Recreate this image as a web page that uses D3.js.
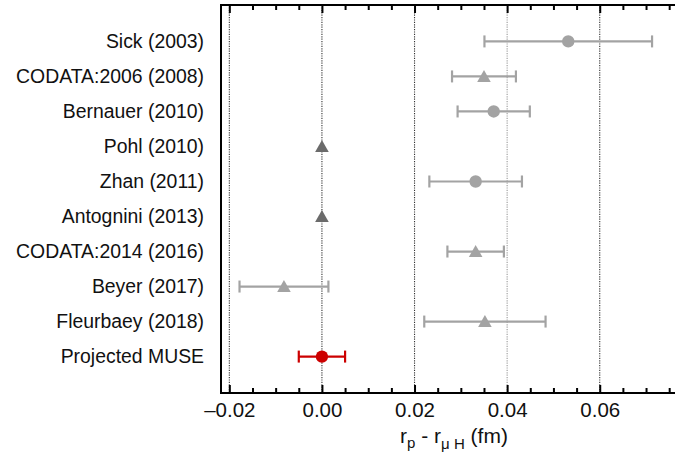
<!DOCTYPE html>
<html>
<head>
<meta charset="utf-8">
<script src="https://cdn.jsdelivr.net/npm/d3@7"></script>
<style>
  html, body { margin: 0; padding: 0; background: #fff; }
  svg { display: block; font-family: "Liberation Sans", Arial, Helvetica, sans-serif; }
</style>
</head>
<body>
<svg id="chart" width="675" height="461"></svg>
<script>
// ---- data ----
const labels = ["Sick (2003)", "CODATA:2006 (2008)", "Bernauer (2010)", "Pohl (2010)", "Zhan (2011)",
                "Antognini (2013)", "CODATA:2014 (2016)", "Beyer (2017)", "Fleurbaey (2018)", "Projected MUSE"];
const values  = [0.0532, 0.0350, 0.0371, 0.0, 0.0332, 0.0, 0.0332, -0.0082, 0.0352, 0.0];
const errLow  = [0.0181, 0.0069, 0.0078, 0.0, 0.0100, 0.0, 0.0061, 0.0096, 0.0131, 0.0050];
const errHigh = [0.0181, 0.0069, 0.0078, 0.0, 0.0100, 0.0, 0.0061, 0.0096, 0.0131, 0.0050];
const markers = ["circle", "triangle", "circle", "triangle", "circle", "triangle", "triangle", "triangle", "triangle", "circle"];
const groups  = ["data", "data", "data", "muonic", "data", "muonic", "data", "data", "data", "muse"];
const majorTicks = [-0.02, 0.00, 0.02, 0.04, 0.06];
const axisTitle = { base: "r", sub1: "p", mid: " - r", sub2: "μ H", tail: " (fm)" };

(function () {
// ---- styles ----
const colors = { data: "#a3a3a3", muonic: "#6b6b6b", muse: "#cc0000" };

const svg = d3.select("#chart");
const plotLeft = 221, plotTop = 5, plotBottom = 393;
const pxPerUnit = 4630;
const x = d3.scaleLinear().domain([-0.0218, 0.078]).range([plotLeft, plotLeft + 0.0998 * pxPerUnit]);
const plotRight = x.range()[1];
const y = d3.scalePoint().domain(labels).range([plotTop, plotBottom]).padding(1.04);

const minorTicks = d3.range(-0.02, 0.0751, 0.005).map(v => +v.toFixed(3))
  .filter(v => !majorTicks.some(m => Math.abs(m - v) < 1e-9));

// gridlines
svg.append("g").selectAll("line").data(majorTicks).join("line")
  .attr("x1", d => x(d)).attr("x2", d => x(d))
  .attr("y1", plotTop).attr("y2", plotBottom)
  .attr("stroke", d => Math.abs(d - 0.04) < 1e-9 ? "#9a9a9a" : "#333")
  .attr("stroke-width", 1.1)
  .attr("stroke-dasharray", "1.2,1.2");

// axes
const fmt = d => (d < 0 ? "\u2013" : "") + Math.abs(d).toFixed(2);
const bAxis = svg.append("g").attr("transform", `translate(0,${plotBottom})`)
  .call(d3.axisBottom(x).tickValues(majorTicks).tickSize(-8).tickPadding(9).tickFormat(fmt));
const bMinor = svg.append("g").attr("transform", `translate(0,${plotBottom})`)
  .call(d3.axisBottom(x).tickValues(minorTicks).tickSize(-5).tickFormat(""));
const tAxis = svg.append("g").attr("transform", `translate(0,${plotTop})`)
  .call(d3.axisTop(x).tickValues(majorTicks).tickSize(-8).tickFormat(""));
const tMinor = svg.append("g").attr("transform", `translate(0,${plotTop})`)
  .call(d3.axisTop(x).tickValues(minorTicks).tickSize(-5).tickFormat(""));
[bAxis, bMinor, tAxis, tMinor].forEach(g => {
  g.select(".domain").remove();
  g.selectAll(".tick line").attr("stroke", "#000").attr("stroke-width", 2);
});
bAxis.selectAll(".tick text").attr("font-size", 20.5).attr("fill", "#111")
  .attr("font-family", "'Liberation Sans', Arial, sans-serif");

// frame
svg.append("rect").attr("x", plotLeft).attr("y", plotTop)
  .attr("width", plotRight - plotLeft).attr("height", plotBottom - plotTop)
  .attr("fill", "none").attr("stroke", "#000").attr("stroke-width", 2);

// category labels
svg.append("g").selectAll("text").data(labels).join("text")
  .attr("x", 204).attr("y", d => y(d)).attr("dy", "0.35em")
  .attr("text-anchor", "end").attr("font-size", 19.4).attr("fill", "#111")
  .text(d => d);

// error bars
const rows = labels.map((l, i) => ({ label: l, v: values[i], lo: values[i] - errLow[i], hi: values[i] + errHigh[i], m: markers[i], g: groups[i] }));
const eb = svg.append("g").selectAll("g").data(rows.filter(r => r.hi > r.lo)).join("g")
  .attr("stroke", r => colors[r.g]).attr("stroke-width", 2.2);
eb.append("line").attr("x1", r => x(r.lo)).attr("x2", r => x(r.hi)).attr("y1", r => y(r.label)).attr("y2", r => y(r.label));
eb.append("line").attr("x1", r => x(r.lo)).attr("x2", r => x(r.lo)).attr("y1", r => y(r.label) - 6).attr("y2", r => y(r.label) + 6);
eb.append("line").attr("x1", r => x(r.hi)).attr("x2", r => x(r.hi)).attr("y1", r => y(r.label) - 6).attr("y2", r => y(r.label) + 6);

// markers
const mk = svg.append("g");
mk.selectAll("circle").data(rows.filter(r => r.m === "circle")).join("circle")
  .attr("cx", r => x(r.v)).attr("cy", r => y(r.label)).attr("r", 6.2)
  .attr("fill", r => colors[r.g]);
mk.selectAll("path").data(rows.filter(r => r.m === "triangle")).join("path")
  .attr("d", r => {
    const cx = x(r.v), cy = y(r.label);
    return `M${cx},${cy - 6.5}L${cx + 6.8},${cy + 5.5}L${cx - 6.8},${cy + 5.5}Z`;
  })
  .attr("fill", r => colors[r.g]);

// axis title
const t = svg.append("text").attr("x", 454).attr("y", 443).attr("text-anchor", "middle")
  .attr("font-size", 21).attr("fill", "#111");
t.append("tspan").text(axisTitle.base);
t.append("tspan").attr("font-size", 15).attr("dy", 5).text(axisTitle.sub1);
t.append("tspan").attr("dy", -5).text(axisTitle.mid);
t.append("tspan").attr("font-size", 15).attr("dy", 6).text(axisTitle.sub2);
t.append("tspan").attr("dy", -6).text(axisTitle.tail);
})();
</script>
</body>
</html>
